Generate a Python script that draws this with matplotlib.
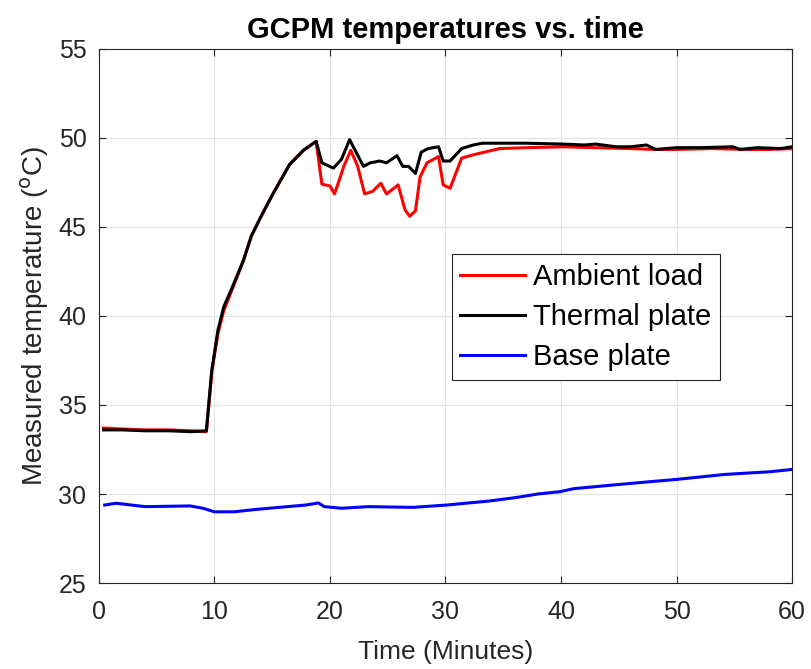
import matplotlib
matplotlib.use("Agg")
import matplotlib.pyplot as plt

# ── data ─────────────────────────────────────────────────────────────────────

t_thermal = [0.4, 2, 4, 6, 8, 9.3, 9.76, 10.3, 10.8, 11.6, 12.5, 13.2, 14.2,
             15.1, 16.5, 17.7, 18.8, 19.3, 20.3, 21.0, 21.7, 22.9, 23.5, 24.3,
             24.9, 25.8, 26.3, 26.8, 27.4, 27.9, 28.5, 29.4, 29.8, 30.4, 31.4,
             32.4, 33.2, 35, 37, 40.2, 42, 43, 44.8, 46, 47.4, 48.2, 50, 52,
             54.9, 55.5, 57, 59, 60]
T_thermal = [33.6, 33.6, 33.55, 33.55, 33.5, 33.55, 36.9, 39.2, 40.5, 41.7,
             43.1, 44.5, 45.8, 46.9, 48.5, 49.3, 49.8, 48.6, 48.3, 48.8, 49.9,
             48.4, 48.6, 48.7, 48.6, 49.0, 48.4, 48.4, 48.0, 49.2, 49.4, 49.5,
             48.7, 48.7, 49.4, 49.6, 49.7, 49.7, 49.7, 49.65, 49.6, 49.65,
             49.5, 49.5, 49.6, 49.35, 49.45, 49.45, 49.5, 49.35, 49.45, 49.4,
             49.5]

t_ambient = [0.4, 2, 4, 6, 8, 9.3, 9.8, 10.3, 10.8, 11.6, 12.5, 13.2, 14.2,
             15.1, 16.5, 17.7, 18.8, 19.3, 20.0, 20.4, 21.2, 21.8, 22.4, 23.0,
             23.7, 24.4, 24.9, 25.9, 26.5, 26.9, 27.4, 27.8, 28.4, 29.4, 29.8,
             30.4, 31.4, 32.4, 34.7, 37, 40.2, 43, 46, 48, 50, 53, 56, 58, 60]
T_ambient = [33.7, 33.65, 33.6, 33.6, 33.55, 33.5, 37.0, 39.0, 40.3, 41.6,
             43.1, 44.5, 45.8, 46.9, 48.5, 49.3, 49.8, 47.4, 47.3, 46.85, 48.4,
             49.3, 48.4, 46.85, 47.0, 47.45, 46.85, 47.36, 45.95, 45.6, 45.9,
             47.8, 48.6, 48.95, 47.36, 47.17, 48.86, 49.05, 49.4, 49.45, 49.5,
             49.45, 49.4, 49.35, 49.35, 49.4, 49.35, 49.35, 49.4]

t_base = [0.5, 1.5, 4.0, 7.9, 9.0, 10.0, 11.7, 13.7, 15.6, 17.9, 19.0, 19.5,
          21.0, 23.3, 27.2, 30.1, 33.7, 36.1, 38.0, 39.9, 41.1, 46.1, 50.0,
          54.2, 58.1, 60]
T_base = [29.38, 29.48, 29.29, 29.33, 29.2, 29.0, 29.0, 29.14, 29.25, 29.38,
          29.5, 29.29, 29.2, 29.29, 29.25, 29.38, 29.6, 29.8, 30.0, 30.13,
          30.3, 30.6, 30.82, 31.1, 31.25, 31.38]

x_ticks = [0, 10, 20, 30, 40, 50, 60]
y_ticks = [25, 30, 35, 40, 45, 50, 55]

# ── figure ────────────────────────────────────────────────────────────────────

plt.rcParams["font.family"] = ["Liberation Sans", "DejaVu Sans"]
TXT = "#262626"

fig = plt.figure(figsize=(8.11, 6.69), dpi=100)
ax = fig.add_axes([0.122, 0.1285, 0.8546, 0.7985])

ax.plot(t_ambient, T_ambient, color="#ff0000", lw=2.2, label="Ambient load")
ax.plot(t_thermal, T_thermal, color="black", lw=2.2, label="Thermal plate")
ax.plot(t_base, T_base, color="#0000ff", lw=2.2, label="Base plate")

ax.set_xlim(0, 60)
ax.set_ylim(25, 55)
ax.set_xticks(x_ticks)
ax.set_yticks(y_ticks)
ax.grid(True, color="#e3e3e3", lw=0.8)
ax.set_axisbelow(True)
ax.tick_params(direction="in", top=True, right=True, labelsize=18,
               colors=TXT, length=5)
ax.tick_params(axis="x", pad=12)
ax.tick_params(axis="y", pad=9)
for s in ax.spines.values():
    s.set_color(TXT)
    s.set_linewidth(0.8)

ax.set_xlabel("Time (Minutes)", fontsize=19, color=TXT, labelpad=12)
ax.set_ylabel("Measured temperature ($^{\\mathrm{o}}$C)", fontsize=20,
              color=TXT, labelpad=5)
ax.set_title("GCPM temperatures vs. time", fontsize=21, fontweight="bold",
             pad=8)

leg = ax.legend(loc="lower left", bbox_to_anchor=(0.509, 0.38), fontsize=21,
                fancybox=False, framealpha=1, edgecolor=TXT,
                handlelength=2.2, borderpad=0.3, labelspacing=0.42,
                handletextpad=0.3, borderaxespad=0)
leg.get_frame().set_linewidth(0.8)

fig.savefig("out.png", dpi=100)
